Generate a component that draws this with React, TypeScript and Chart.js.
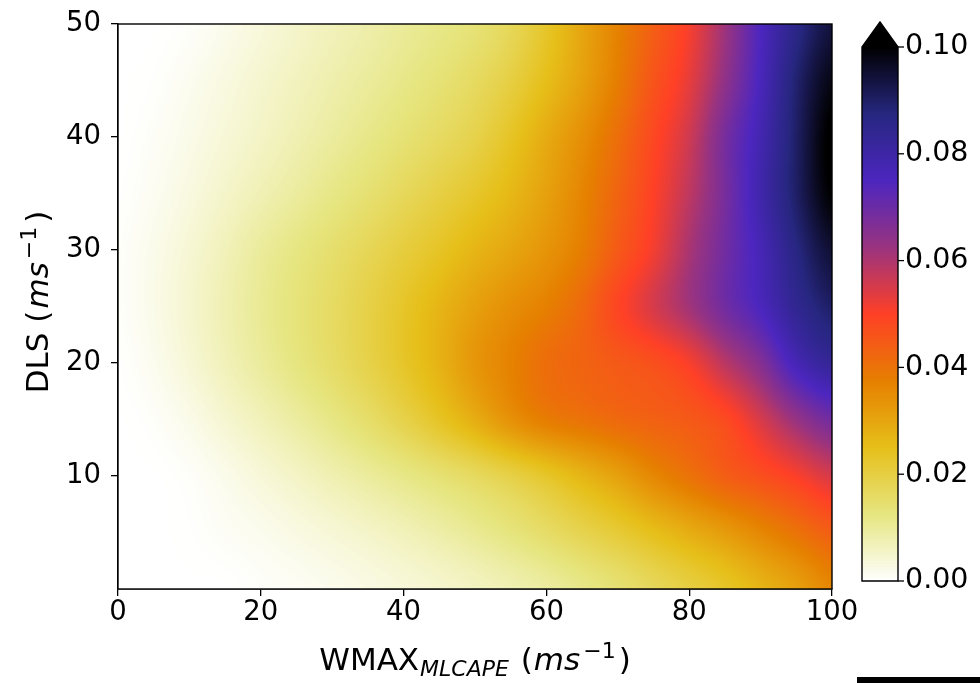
import React, { useEffect, useRef } from 'react';
import { Chart, registerables } from 'chart.js';

Chart.register(...registerables);

// ---------------- data ----------------
const X_VALUES = [0, 5, 10, 15, 20, 25, 30, 35, 40, 45, 50, 55, 60, 65, 70, 75, 80, 85, 90, 95, 100];
const Y_VALUES = [0, 5, 10, 15, 20, 25, 30, 35, 40, 45, 50];

const ROW_Y0 = [0, 0, 0, 0, 0.0005, 0.001, 0.0018, 0.0027, 0.0037, 0.0048, 0.006, 0.0075, 0.0092, 0.0115, 0.014, 0.017, 0.02, 0.023, 0.027, 0.031, 0.036];
const ROW_Y5 = [0, 0, 0.0002, 0.0009, 0.0017, 0.0028, 0.004, 0.0053, 0.0068, 0.0085, 0.0105, 0.0128, 0.0155, 0.0185, 0.0215, 0.025, 0.0285, 0.032, 0.036, 0.04, 0.044];
const ROW_Y10 = [0, 0, 0.0006, 0.002, 0.0038, 0.0056, 0.0076, 0.0096, 0.0117, 0.014, 0.0165, 0.0195, 0.023, 0.027, 0.031, 0.036, 0.04, 0.044, 0.047, 0.0505, 0.055];
const ROW_Y15 = [0, 0.0006, 0.0022, 0.0045, 0.0068, 0.0093, 0.012, 0.0152, 0.019, 0.0235, 0.0285, 0.034, 0.038, 0.04, 0.042, 0.0435, 0.045, 0.048, 0.055, 0.063, 0.069];
const ROW_Y20 = [0.0002, 0.0016, 0.004, 0.0068, 0.0096, 0.0125, 0.0155, 0.019, 0.023, 0.0275, 0.033, 0.037, 0.041, 0.043, 0.045, 0.047, 0.0508, 0.0585, 0.066, 0.077, 0.083];
const ROW_Y25 = [0.0005, 0.0022, 0.0047, 0.0075, 0.0104, 0.0132, 0.016, 0.0193, 0.023, 0.027, 0.031, 0.0345, 0.0375, 0.042, 0.049, 0.055, 0.0615, 0.069, 0.0755, 0.084, 0.09];
const ROW_Y30 = [0.0005, 0.002, 0.0042, 0.0068, 0.0097, 0.0122, 0.0147, 0.0175, 0.0205, 0.0235, 0.027, 0.03, 0.0335, 0.038, 0.045, 0.0515, 0.0605, 0.069, 0.077, 0.087, 0.095];
const ROW_Y35 = [0.0002, 0.0013, 0.0031, 0.0052, 0.0073, 0.0095, 0.0118, 0.0142, 0.017, 0.0198, 0.0228, 0.0265, 0.031, 0.0365, 0.043, 0.05, 0.058, 0.068, 0.079, 0.09, 0.1];
const ROW_Y40 = [0, 0.0008, 0.0022, 0.0039, 0.0056, 0.0075, 0.0095, 0.0116, 0.0138, 0.0162, 0.019, 0.0235, 0.029, 0.0345, 0.041, 0.0485, 0.056, 0.068, 0.078, 0.09, 0.101];
const ROW_Y45 = [0, 0.0003, 0.0015, 0.003, 0.0047, 0.0063, 0.008, 0.0097, 0.0116, 0.0137, 0.0163, 0.02, 0.0252, 0.031, 0.038, 0.046, 0.053, 0.064, 0.076, 0.089, 0.098];
const ROW_Y50 = [0, 0, 0.0005, 0.0019, 0.0035, 0.0051, 0.0067, 0.0083, 0.01, 0.0117, 0.0137, 0.0172, 0.023, 0.03, 0.037, 0.044, 0.051, 0.062, 0.075, 0.086, 0.094];

const GRID_ROWS = [ROW_Y0, ROW_Y5, ROW_Y10, ROW_Y15, ROW_Y20, ROW_Y25, ROW_Y30, ROW_Y35, ROW_Y40, ROW_Y45, ROW_Y50];

const X_TICKS = [0, 20, 40, 60, 80, 100];
const Y_TICKS = [10, 20, 30, 40, 50];
const CB_TICKS = [0, 0.02, 0.04, 0.06, 0.08, 0.1];
const V_MIN = 0;
const V_MAX = 0.1;

// ---------------- style ----------------
const FONT_FAMILY = '"DejaVu Sans", sans-serif';
const TICK_PX = 27.5;
const CB_TICK_PX = 28.5;
const LABEL_PX = 31;
const SUB_PX = 22;

// CMRmap nodes (used reversed)
const CM_POS = [0, 0.125, 0.25, 0.375, 0.5, 0.625, 0.75, 0.875, 1];
const CM_R = [0, 0.15, 0.3, 0.6, 1.0, 0.9, 0.9, 0.9, 1.0];
const CM_G = [0, 0.15, 0.15, 0.2, 0.25, 0.5, 0.75, 0.9, 1.0];
const CM_B = [0, 0.5, 0.75, 0.5, 0.15, 0.0, 0.1, 0.5, 1.0];

function cmapR(v: number): [number, number, number] {
  if (v > V_MAX) return [0, 0, 0];
  let t = 1 - (v - V_MIN) / (V_MAX - V_MIN);
  t = Math.max(0, Math.min(1, t));
  let k = 0;
  while (k < CM_POS.length - 2 && t > CM_POS[k + 1]) k++;
  const f = (t - CM_POS[k]) / (CM_POS[k + 1] - CM_POS[k]);
  const r = CM_R[k] + (CM_R[k + 1] - CM_R[k]) * f;
  const g = CM_G[k] + (CM_G[k + 1] - CM_G[k]) * f;
  const b = CM_B[k] + (CM_B[k + 1] - CM_B[k]) * f;
  return [Math.round(r * 255), Math.round(g * 255), Math.round(b * 255)];
}

function locate(arr: number[], v: number): [number, number] {
  const n = arr.length;
  if (v <= arr[0]) return [0, 0];
  if (v >= arr[n - 1]) return [n - 2, 1];
  let i = 0;
  while (i < n - 2 && v > arr[i + 1]) i++;
  return [i, (v - arr[i]) / (arr[i + 1] - arr[i])];
}

function cr(p0: number, p1: number, p2: number, p3: number, t: number) {
  return p1 + 0.5 * t * (p2 - p0 + t * (2 * p0 - 5 * p1 + 4 * p2 - p3 + t * (3 * (p1 - p2) + p3 - p0)));
}

function sampleGrid(xv: number, yv: number) {
  const [i, tx] = locate(X_VALUES, xv);
  const [j, ty] = locate(Y_VALUES, yv);
  const nx = X_VALUES.length, ny = Y_VALUES.length;
  const ci = (k: number) => Math.max(0, Math.min(nx - 1, k));
  const cj = (k: number) => Math.max(0, Math.min(ny - 1, k));
  const rowVals: number[] = [];
  for (let dj = -1; dj <= 2; dj++) {
    const row = GRID_ROWS[cj(j + dj)];
    rowVals.push(cr(row[ci(i - 1)], row[ci(i)], row[ci(i + 1)], row[ci(i + 2)], tx));
  }
  return Math.max(0, cr(rowVals[0], rowVals[1], rowVals[2], rowVals[3], ty));
}

type Run = { t: string; size: number; italic?: boolean; dy?: number; gap?: number };

function setFont(ctx: CanvasRenderingContext2D, r: Run) {
  ctx.font = `${r.italic ? 'italic ' : ''}${r.size}px ${FONT_FAMILY}`;
}

function drawRuns(ctx: CanvasRenderingContext2D, runs: Run[], align: 'left' | 'center' | 'right') {
  let w = 0;
  for (const r of runs) { setFont(ctx, r); w += ctx.measureText(r.t).width + (r.gap || 0); }
  let cx = align === 'center' ? -w / 2 : align === 'right' ? -w : 0;
  ctx.textAlign = 'left';
  for (const r of runs) {
    setFont(ctx, r);
    cx += r.gap || 0;
    ctx.fillText(r.t, cx, r.dy || 0);
    cx += ctx.measureText(r.t).width;
  }
}

function drawText(ctx: CanvasRenderingContext2D, text: string, x: number, y: number, align: 'left' | 'center' | 'right', size = TICK_PX) {
  ctx.save();
  ctx.translate(x, y);
  ctx.fillStyle = '#000';
  ctx.textBaseline = 'middle';
  drawRuns(ctx, [{ t: text, size }], align);
  ctx.restore();
}

const X_TITLE: Run[] = [
  { t: 'WMAX', size: LABEL_PX },
  { t: 'MLCAPE', size: SUB_PX, italic: true, dy: 6, gap: 1 },
  { t: ' (', size: LABEL_PX, gap: 2 },
  { t: 'ms', size: LABEL_PX, italic: true, gap: 1 },
  { t: '\u22121', size: SUB_PX, dy: -12, gap: 3 },
  { t: ')', size: LABEL_PX, gap: 3 },
];
const Y_TITLE: Run[] = [
  { t: 'DLS (', size: LABEL_PX },
  { t: 'ms', size: LABEL_PX, italic: true, gap: 2 },
  { t: '\u22121', size: SUB_PX, dy: -12, gap: 3 },
  { t: ')', size: LABEL_PX, gap: 4 },
];

const heatmapPlugin = {
  id: 'heatmap',
  beforeDatasetsDraw(chart: any) {
    const { ctx, chartArea: a, scales } = chart;
    const xs = scales.x, ys = scales.y;
    const w = Math.round(a.right - a.left);
    const h = Math.round(a.bottom - a.top);
    const off = document.createElement('canvas');
    off.width = w; off.height = h;
    const octx = off.getContext('2d')!;
    const img = octx.createImageData(w, h);
    const xvals: number[] = [];
    for (let i = 0; i < w; i++) xvals.push(xs.getValueForPixel(a.left + i + 0.5));
    for (let j = 0; j < h; j++) {
      const yv = ys.getValueForPixel(a.top + j + 0.5);
      for (let i = 0; i < w; i++) {
        const [r, g, b] = cmapR(sampleGrid(xvals[i], yv));
        const k = (j * w + i) * 4;
        img.data[k] = r; img.data[k + 1] = g; img.data[k + 2] = b; img.data[k + 3] = 255;
      }
    }
    octx.putImageData(img, 0, 0);
    ctx.drawImage(off, a.left, a.top);
  },
  afterDraw(chart: any) {
    const { ctx, chartArea: a, scales } = chart;
    ctx.save();
    ctx.strokeStyle = '#000';
    ctx.lineWidth = 1.4;
    ctx.strokeRect(a.left, a.top, a.right - a.left, a.bottom - a.top);
    for (const v of X_TICKS) drawText(ctx, String(v), scales.x.getPixelForValue(v), a.bottom + 24, 'center');
    for (const v of Y_TICKS) drawText(ctx, String(v), a.left - 17, scales.y.getPixelForValue(v), 'right');
    ctx.fillStyle = '#000';
    ctx.textBaseline = 'alphabetic';
    ctx.save();
    ctx.translate((a.left + a.right) / 2, 670);
    drawRuns(ctx, X_TITLE, 'center');
    ctx.restore();
    ctx.save();
    ctx.translate(37, 302);
    ctx.rotate(-Math.PI / 2);
    ctx.translate(0, LABEL_PX * 0.36);
    drawRuns(ctx, Y_TITLE, 'center');
    ctx.restore();
    ctx.restore();
  },
};

const colorbarPlugin = {
  id: 'colorbar',
  beforeDatasetsDraw(chart: any) {
    const { ctx, chartArea: a, scales } = chart;
    const ys = scales.y;
    for (let p = Math.floor(a.top); p < Math.ceil(a.bottom); p++) {
      const v = ys.getValueForPixel(p + 0.5);
      const [r, g, b] = cmapR(Math.min(v, V_MAX));
      ctx.fillStyle = `rgb(${r},${g},${b})`;
      ctx.fillRect(a.left, p, a.right - a.left, 1);
    }
    const cx = (a.left + a.right) / 2;
    const apex = a.top - 25;
    ctx.save();
    ctx.beginPath();
    ctx.moveTo(a.left, a.top);
    ctx.lineTo(cx, apex);
    ctx.lineTo(a.right, a.top);
    ctx.closePath();
    ctx.fillStyle = '#000';
    ctx.fill();
    ctx.beginPath();
    ctx.moveTo(a.left, a.bottom);
    ctx.lineTo(a.left, a.top);
    ctx.lineTo(cx, apex);
    ctx.lineTo(a.right, a.top);
    ctx.lineTo(a.right, a.bottom);
    ctx.closePath();
    ctx.strokeStyle = '#000';
    ctx.lineWidth = 1.4;
    ctx.stroke();
    ctx.lineWidth = 1.3;
    for (const v of CB_TICKS) {
      const py = ys.getPixelForValue(v);
      ctx.beginPath();
      ctx.moveTo(a.right, py);
      ctx.lineTo(a.right + 6, py);
      ctx.stroke();
      drawText(ctx, v.toFixed(2), a.right + 7, py, 'left', CB_TICK_PX);
    }
    ctx.restore();
  },
};

export default function App() {
  const mainRef = useRef<HTMLCanvasElement>(null);
  const cbRef = useRef<HTMLCanvasElement>(null);

  useEffect(() => {
    const points: { x: number; y: number; v: number }[] = [];
    Y_VALUES.forEach((yv, j) => X_VALUES.forEach((xv, i) => points.push({ x: xv, y: yv, v: GRID_ROWS[j][i] })));

    const main = new Chart(mainRef.current!, {
      type: 'scatter',
      data: { datasets: [{ data: points, pointRadius: 0, pointHoverRadius: 0, showLine: false }] },
      options: {
        animation: false,
        responsive: false,
        events: [],
        layout: { padding: { left: 0, top: 24, right: 148, bottom: 0 } },
        plugins: { legend: { display: false }, tooltip: { enabled: false } },
        scales: {
          x: {
            type: 'linear', min: 0, max: 100,
            afterBuildTicks: (s: any) => { s.ticks = X_TICKS.map((v) => ({ value: v })); },
            afterFit: (s: any) => { s.height = 94; },
            grid: { drawOnChartArea: false, drawTicks: true, tickLength: 7, color: '#000', lineWidth: 1.3 },
            border: { display: true, color: '#000', width: 1.4 },
            ticks: { display: false },
          },
          y: {
            type: 'linear', min: 0, max: 50,
            afterBuildTicks: (s: any) => { s.ticks = Y_TICKS.map((v) => ({ value: v })); },
            afterFit: (s: any) => { s.width = 118; },
            grid: { drawOnChartArea: false, drawTicks: true, tickLength: 7, color: '#000', lineWidth: 1.3 },
            border: { display: true, color: '#000', width: 1.4 },
            ticks: { display: false },
          },
        },
      },
      plugins: [heatmapPlugin],
    } as any);

    const cb = new Chart(cbRef.current!, {
      type: 'scatter',
      data: { datasets: [{ data: CB_TICKS.map((v) => ({ x: 0, y: v })), pointRadius: 0, showLine: false }] },
      options: {
        animation: false,
        responsive: false,
        events: [],
        layout: { padding: { left: 12, top: 47, right: 82, bottom: 102 } },
        plugins: { legend: { display: false }, tooltip: { enabled: false } },
        scales: {
          x: { type: 'linear', display: false, min: -1, max: 1 },
          y: { type: 'linear', display: false, min: V_MIN, max: V_MAX },
        },
      },
      plugins: [colorbarPlugin],
    } as any);

    return () => { main.destroy(); cb.destroy(); };
  }, []);

  return (
    <div style={{ position: 'fixed', left: 0, top: 0, width: 980, height: 683, background: '#fff', overflow: 'hidden' }}>
      <canvas ref={mainRef} width={980} height={683} style={{ position: 'absolute', left: 0, top: 0, width: 980, height: 683 }} />
      <canvas ref={cbRef} width={130} height={683} style={{ position: 'absolute', left: 850, top: 0, width: 130, height: 683 }} />
      <div style={{ position: 'absolute', left: 857, top: 677, width: 123, height: 6, background: '#000' }} />
    </div>
  );
}
